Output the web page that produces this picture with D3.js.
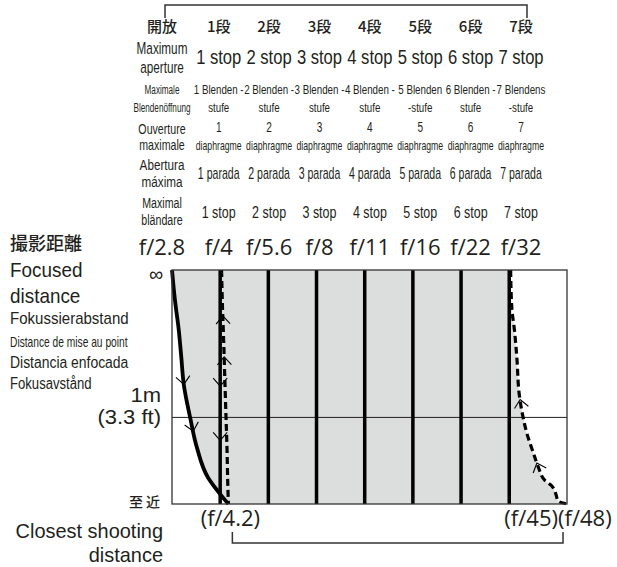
<!DOCTYPE html>
<html lang="ja">
<head>
<meta charset="UTF-8">
<title>Effective aperture</title>
<script src="https://d3js.org/d3.v7.min.js"></script>
<style>
    body {margin: 0; background: #fff;}
    text {font-family: "Open Sans", sans-serif; fill: #231f20;}
    text.cond {font-family: "Liberation Sans", Arial, sans-serif;}
    text.ja {font-family: "Noto Sans CJK JP", sans-serif;}
</style>
</head>
<body>
<script>
    const width = 617;
    const height = 567;

    // column headings: stops down from maximum aperture
    const stepsJa = ["1段", "2段", "3段", "4段", "5段", "6段", "7段"];
    const stepsEn = ["1 stop", "2 stop", "3 stop", "4 stop", "5 stop", "6 stop", "7 stop"];
    const stepsDe = [["1 Blenden -", "stufe"], ["2 Blenden -", "stufe"], ["3 Blenden -", "stufe"],
                     ["4 Blenden -", "stufe"], ["5 Blenden", "-stufe"], ["6 Blenden -", "stufe"],
                     ["7 Blendens", "-stufe"]];
    const stepsFr = ["1", "2", "3", "4", "5", "6", "7"];
    const stepsEs = ["1 parada", "2 parada", "3 parada", "4 parada", "5 parada", "6 parada", "7 parada"];
    const stepsSv = ["1 stop", "2 stop", "3 stop", "4 stop", "5 stop", "6 stop", "7 stop"];
    const fNumbers = [2.8, 4, 5.6, 8, 11, 16, 22, 32];

    const headJa = ["開放"];
    const headEn = ["Maximum", "aperture"];
    const headDe = ["Maximale", "Blendenöffnung"];
    const headFr = ["Ouverture", "maximale"];
    const headEs = ["Abertura", "máxima"];
    const headSv = ["Maximal", "bländare"];

    const distanceLabels = ["撮影距離", "Focused", "distance", "Fokussierabstand",
                            "Distance de mise au point", "Distancia enfocada", "Fokusavstånd"];
    const closestLabels = ["至近", "Closest shooting", "distance"];

    // focus distances in metres
    const closest = 0.63;
    const oneMetre = 1;

    // effective f-number vs focused distance, [f, metres]
    const wideOpen = [[2.8, Infinity], [2.86, 4.9], [2.94, 2.45], [2.99, 1.73], [3.05, 1.28],
                      [3.19, 1.0], [3.35, 0.83], [3.63, 0.71], [3.87, 0.67], [4.2, 0.63]];
    const f4Shift = [[4.0, Infinity], [4.02, 4.9], [4.06, 2.1], [4.1, 1.28], [4.13, 1.0],
                     [4.16, 0.82], [4.18, 0.7], [4.2, 0.63]];
    const f32Shift = [[32, Infinity], [32.3, 3.7], [32.8, 2.6], [33.5, 1.64], [34.0, 1.2],
                      [35.0, 1.0], [36.0, 0.9], [37.6, 0.81], [39.0, 0.75], [41.0, 0.7],
                      [42.8, 0.685], [44.4, 0.655], [45, 0.638], [48, 0.63]];
    const endLabels = [4.2, 45, 48];

    // direction marks along the lines
    const arrows = [
        {on: "wideOpen", d: 1.3, dir: "down"}, {on: "wideOpen", d: 0.92, dir: "down"},
        {on: "f4", d: 1.28, dir: "down"}, {on: "f4", d: 0.87, dir: "down"},
        {on: "f4Shift", d: 3.14, dir: "up"}, {on: "f4Shift", d: 1.68, dir: "up"},
        {on: "f32Shift", d: 1.13, dir: "up"}, {on: "f32Shift", d: 0.76, dir: "up"}
    ];

    const svg = d3.select("body").append("svg")
        .attr("width", width).attr("height", height);

    const plot = {left: 172, right: 567, top: 270, bottom: 504};
    const stop = f => 2 * Math.log2(f / fNumbers[0]);
    const x = d3.scaleLinear().domain([0, stop(48)]).range([plot.left, plot.right]);
    const y = d3.scaleLinear().domain([0, 1 / closest]).range([plot.top, plot.bottom]);

    const px = d => x(stop(d[0]));
    const py = d => y(1 / d[1]);
    const line = d3.line().x(px).y(py).curve(d3.curveMonotoneY);

    // grey band: everything left of the f/32 curve, then white left of the wide-open curve
    svg.append("path")
        .attr("d", line(f32Shift) + `L${plot.left},${plot.bottom}L${plot.left},${plot.top}Z`)
        .style("fill", "#dcdddd");
    svg.append("path")
        .attr("d", line(wideOpen) + `L${plot.left},${plot.bottom}Z`)
        .style("fill", "#fff");

    // 1 m line
    svg.append("line")
        .attr("x1", plot.left).attr("x2", plot.right)
        .attr("y1", y(1 / oneMetre)).attr("y2", y(1 / oneMetre))
        .style("stroke", "#231f20").style("stroke-width", 1);

    // stop lines f/4 .. f/32
    svg.selectAll("line.stop")
        .data(d3.range(1, fNumbers.length))
        .enter().append("line")
        .attr("class", "stop")
        .attr("x1", d => x(d)).attr("x2", d => x(d))
        .attr("y1", plot.top).attr("y2", plot.bottom)
        .style("stroke", "#000").style("stroke-width", 3.5);

    svg.append("path").attr("d", line(wideOpen))
        .style("fill", "none").style("stroke", "#000").style("stroke-width", 3.8);
    svg.append("path").attr("d", line(f4Shift))
        .style("fill", "none").style("stroke", "#000").style("stroke-width", 3.2)
        .style("stroke-dasharray", "7,4");
    svg.append("path").attr("d", line(f32Shift))
        .style("fill", "none").style("stroke", "#000").style("stroke-width", 3.2)
        .style("stroke-dasharray", "7,4");

    // frame
    svg.append("rect")
        .attr("x", plot.left).attr("y", plot.top)
        .attr("width", plot.right - plot.left).attr("height", plot.bottom - plot.top)
        .style("fill", "none").style("stroke", "#333").style("stroke-width", 1.3);

    // arrow chevrons
    const curves = {wideOpen: wideOpen, f4Shift: f4Shift, f32Shift: f32Shift};
    function posAt(name, inv) {
        if (name === "f4") return [x(1), y(inv)];
        const pts = curves[name];
        const s = d3.scaleLinear()
            .domain(pts.map(d => 1 / d[1]))
            .range(pts.map(d => stop(d[0])));
        return [x(s(inv)), y(inv)];
    }
    svg.selectAll("path.arrow")
        .data(arrows)
        .enter().append("path")
        .attr("class", "arrow")
        .attr("d", d => d.dir === "down" ? "M-7,-7L0,1L7,-7" : "M-7,7L0,-1L7,7")
        .attr("transform", d => {
            const inv = 1 / d.d;
            const p = posAt(d.on, inv);
            const a = posAt(d.on, inv - 0.03), b = posAt(d.on, inv + 0.03);
            const ang = -Math.atan2(b[0] - a[0], b[1] - a[1]) * 180 / Math.PI;
            return `translate(${p[0]},${p[1]}) rotate(${ang})`;
        })
        .style("fill", "none").style("stroke", "#000").style("stroke-width", 1.1);

    // text helper: one <text>, lines as tspans at the given baselines
    const pick = (v, i) => Array.isArray(v) ? v[i] : v;
    function put(lines, tx, ys, size, sx, opts) {
        opts = opts || {};
        lines = [].concat(lines);
        ys = [].concat(ys);
        const t = svg.append("text")
            .attr("class", opts.cls || null)
            .attr("transform", `translate(${tx},${ys[0]}) scale(${sx},1)`)
            .attr("text-anchor", opts.anchor || "middle")
            .style("font-size", pick(size, 0) + "px")
            .style("font-weight", opts.weight || 400)
            .style("letter-spacing", opts.ls || null);
        if (lines.length === 1) return t.text(lines[0]);
        lines.forEach((s, i) => t.append("tspan")
            .attr("x", 0).attr("y", ys[i] - ys[0])
            .style("font-size", pick(size, i) + "px")
            .text(s));
        return t;
    }

    // header table columns
    const col0 = 162;
    const colX = d3.scaleLinear().domain([1, 7]).range([218.7, 521]);

    function drawRow(head, cells, hs, cs) {
        put(head, col0, hs.y, hs.size, hs.sx, hs);
        cells.forEach((lines, c) => put(lines, colX(c + 1), cs.y, cs.size, cs.sx, cs));
    }

    drawRow(headJa, stepsJa, {y: [32], size: 15, sx: 1, cls: "ja", weight: 500},
                             {y: [32], size: 15, sx: 1, cls: "ja", weight: 500});
    drawRow(headEn, stepsEn, {y: [54, 73.5], size: 17, sx: 0.69, cls: "cond"},
                             {y: [64], size: 21, sx: 0.79, cls: "cond"});
    drawRow(headDe, stepsDe, {y: [94, 112], size: 12, sx: 0.68, cls: "cond"},
                             {y: [94, 112], size: 13, sx: 0.75, cls: "cond"});
    drawRow(headFr, stepsFr.map(s => [s, "diaphragme"]), {y: [134, 150], size: 14, sx: 0.76, cls: "cond"},
                             {y: [132, 150], size: [15, 13], sx: 0.67, cls: "cond"});
    drawRow(headEs, stepsEs, {y: [170, 187], size: 15, sx: 0.78, cls: "cond"},
                             {y: [179], size: 16, sx: 0.66, cls: "cond"});
    drawRow(headSv, stepsSv, {y: [208, 225], size: 15, sx: 0.71, cls: "cond"},
                             {y: [217.5], size: 16, sx: 0.78, cls: "cond"});
    drawRow(["f/" + fNumbers[0]], fNumbers.slice(1).map(f => "f/" + f),
            {y: [255], size: 22, sx: 1}, {y: [255], size: 22, sx: 1});

    // top bracket
    svg.append("path")
        .attr("d", `M${col0 + 3},18V5H${colX(7) + 6}V18`)
        .style("fill", "none").style("stroke", "#333").style("stroke-width", 1.5);

    // distance axis labels
    put(distanceLabels[0], 10, 250, 18, 1, {anchor: "start", cls: "ja", weight: 500});
    put(distanceLabels.slice(1, 3), 10, [277, 303], 21, 0.9, {anchor: "start", cls: "cond"});
    put(distanceLabels[3], 10, 324, 16, 0.94, {anchor: "start", cls: "cond"});
    put(distanceLabels[4], 10, 346.5, 14, 0.73, {anchor: "start", cls: "cond"});
    put(distanceLabels[5], 10, 368, 16, 0.87, {anchor: "start", cls: "cond"});
    put(distanceLabels[6], 10, 389, 16, 0.82, {anchor: "start", cls: "cond"});

    put("∞", 156, 281, 20, 1, {cls: "cond"});
    put([oneMetre + "m", "(3.3 ft)"], 161, [402, 424.5], 20, 1.1, {anchor: "end", cls: "cond"});

    put(closestLabels[0], 163, 507, 14, 1, {anchor: "end", cls: "ja", weight: 500, ls: "3px"});
    put(closestLabels.slice(1), 163, [538, 562], 21, 0.95, {anchor: "end", cls: "cond"});

    // effective aperture at closest distance
    put(`(f/${endLabels[0]})`, x(stop(endLabels[0])) + 2, 526, 21, 1.05);
    put(`(f/${endLabels[1]})`, x(stop(endLabels[1])), 526, 21, 1.05, {anchor: "end"});
    put(`(f/${endLabels[2]})`, x(stop(endLabels[1])), 526, 21, 1.05, {anchor: "start"});

    // bottom bracket
    const bl = x(stop(endLabels[0])) + 4, br = x(stop(endLabels[2])) - 4;
    svg.append("path")
        .attr("d", `M${bl},532V543H${br}V532`)
        .style("fill", "none").style("stroke", "#333").style("stroke-width", 1.5);
</script>
</body>
</html>
